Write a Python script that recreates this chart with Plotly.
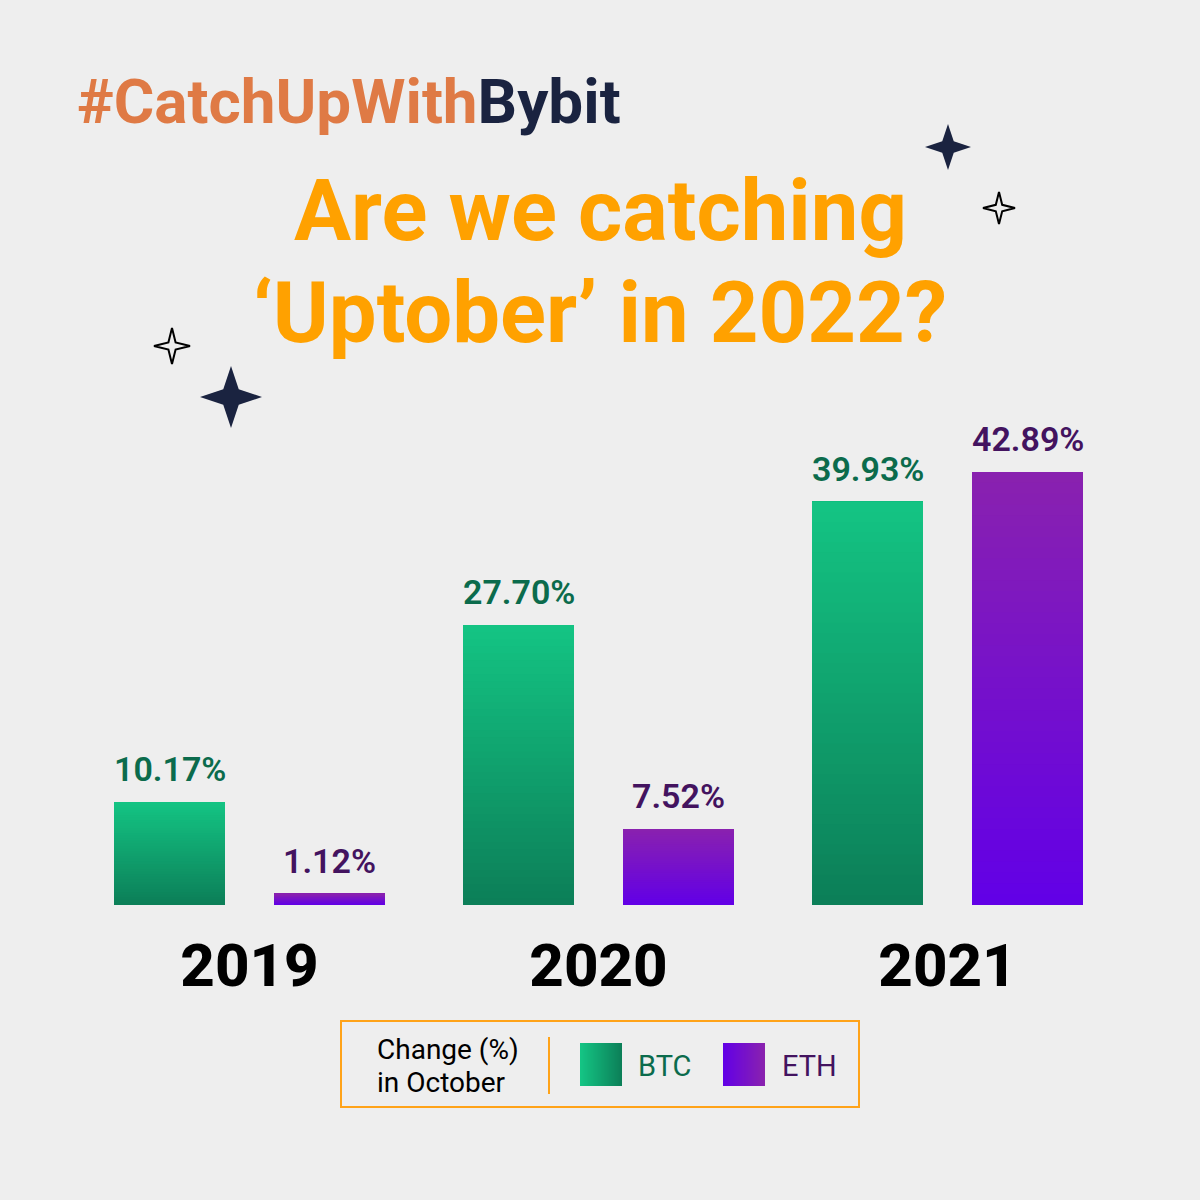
import plotly.graph_objects as go

years = [2019, 2020, 2021]
btc_change = [10.17, 27.70, 39.93]
eth_change = [1.12, 7.52, 42.89]
btc_labels = ["10.17%", "27.70%", "39.93%"]
eth_labels = ["1.12%", "7.52%", "42.89%"]

FONT = "Roboto"
BG = "#eeeeee"
NAVY = "#1a2340"
ORANGE = "#ffa100"
BTC_TEXT = "#0b6b4c"
ETH_TEXT = "#43135f"
BTC_TOP, BTC_BOTTOM = (20, 197, 132), (12, 127, 88)
ETH_TOP, ETH_BOTTOM = (138, 34, 174), (98, 0, 230)
BAR_OFFSET = 80 / 349
BAR_WIDTH = 111 / 349
STEPS = 40


def mix(a, b, t):
    return "rgb(%d,%d,%d)" % tuple(round(a[i] + (b[i] - a[i]) * t) for i in range(3))


def px(x):
    return x / 1200


def py(y):
    return 1 - y / 1200


def gradient_bar(values, offset, top, bottom):
    # no gradient fill on bars, so paint shrinking bars over each other
    xs, bases, heights, colors = [], [], [], []
    for year, value in zip(years, values):
        for i in range(STEPS):
            t = i / STEPS
            xs.append(year + offset)
            bases.append(value * t)
            heights.append(value * (1 - t))
            colors.append(mix(bottom, top, t))
    return go.Bar(
        x=xs,
        y=heights,
        base=bases,
        width=BAR_WIDTH,
        marker=dict(color=colors, line=dict(width=0)),
        showlegend=False,
    )


def value_text(values, labels, offset, color):
    return [
        dict(
            x=year + offset,
            y=value,
            xref="x",
            yref="y",
            text=text,
            showarrow=False,
            yanchor="middle",
            yshift=33,
            font=dict(family=FONT, size=34, color=color, weight=600),
        )
        for year, value, text in zip(years, values, labels)
    ]


def star(cx, cy, r, filled):
    k = r * (0.25 if filled else 0.2)
    pts = [(0, -r), (k, -k), (r, 0), (k, k), (0, r), (-k, k), (-r, 0), (-k, -k)]
    p = [(px(cx + a), py(cy + b)) for a, b in pts]
    path = "M%f,%f L%f,%f L%f,%f L%f,%f L%f,%f L%f,%f L%f,%f L%f,%f Z" % tuple(
        v for q in p for v in q
    )
    return dict(
        type="path",
        xref="paper",
        yref="paper",
        path=path,
        fillcolor=NAVY if filled else "rgba(0,0,0,0)",
        line=dict(color=NAVY if filled else "#000000", width=0 if filled else 2),
    )


def label(x, y, text, size, color, anchor="left", weight=400):
    return dict(
        x=px(x),
        y=py(y),
        xref="paper",
        yref="paper",
        text=text,
        showarrow=False,
        xanchor=anchor,
        yanchor="middle",
        font=dict(family=FONT, size=size, color=color, weight=weight),
    )


fig = go.Figure()
fig.add_trace(gradient_bar(btc_change, -BAR_OFFSET, BTC_TOP, BTC_BOTTOM))
fig.add_trace(gradient_bar(eth_change, BAR_OFFSET, ETH_TOP, ETH_BOTTOM))

shapes = [
    star(948, 147, 23, True),
    star(999, 208, 16, False),
    star(172, 346, 18, False),
    star(231, 397, 31, True),
    dict(
        type="rect",
        xref="paper",
        yref="paper",
        x0=px(341),
        x1=px(859),
        y0=py(1107),
        y1=py(1021),
        line=dict(color="#ffa319", width=2),
    ),
    dict(
        type="line",
        xref="paper",
        yref="paper",
        x0=px(549),
        x1=px(549),
        y0=py(1037),
        y1=py(1094),
        line=dict(color="#ffa319", width=2),
    ),
]
# legend swatches, gradient runs left to right
for left, c0, c1 in [(580, BTC_TOP, BTC_BOTTOM), (723, ETH_BOTTOM, ETH_TOP)]:
    for i in range(42):
        shapes.append(
            dict(
                type="rect",
                xref="paper",
                yref="paper",
                x0=px(left + i),
                x1=px(left + 42),
                y0=py(1086),
                y1=py(1043),
                fillcolor=mix(c0, c1, i / 41),
                line=dict(width=0),
            )
        )

annotations = [
    label(
        75,
        102,
        "<span style='color:#df7a45'>#CatchUpWith</span>Bybit",
        62,
        NAVY,
        weight=700,
    ),
    label(600, 211, "Are we catching", 85, ORANGE, "center", 700),
    label(600, 313, "‘Uptober’ in 2022?", 85, ORANGE, "center", 700),
    label(375, 1049, "Change (%)", 28, "#000000"),
    label(375, 1082, "in October", 28, "#000000"),
    label(636, 1066, "BTC", 29, BTC_TEXT),
    label(780, 1066, "ETH", 29, ETH_TEXT),
]
annotations += value_text(btc_change, btc_labels, -BAR_OFFSET, BTC_TEXT)
annotations += value_text(eth_change, eth_labels, BAR_OFFSET, ETH_TEXT)

fig.update_layout(
    width=1200,
    height=1200,
    margin=dict(l=0, r=0, t=0, b=0),
    paper_bgcolor=BG,
    plot_bgcolor=BG,
    barmode="overlay",
    shapes=shapes,
    annotations=annotations,
    showlegend=False,
)
fig.update_xaxes(
    range=[2019 - 249.5 / 349, 2019 + 950.5 / 349],
    domain=[0, 1],
    tickmode="array",
    tickvals=years,
    ticktext=[str(y) for y in years],
    tickfont=dict(family=FONT, size=60, color="#000000", weight=800),
    ticks="outside",
    ticklen=8,
    tickcolor="rgba(0,0,0,0)",
    showgrid=False,
    zeroline=False,
    showline=False,
)
fig.update_yaxes(
    range=[0, 50],
    domain=[py(905), py(400.2)],
    visible=False,
    showgrid=False,
    zeroline=False,
)

# page margin would otherwise leave a white frame round the figure
fig.write_html(
    "out.html",
    config=dict(displayModeBar=False),
    post_script="document.body.style.margin='0';",
)
